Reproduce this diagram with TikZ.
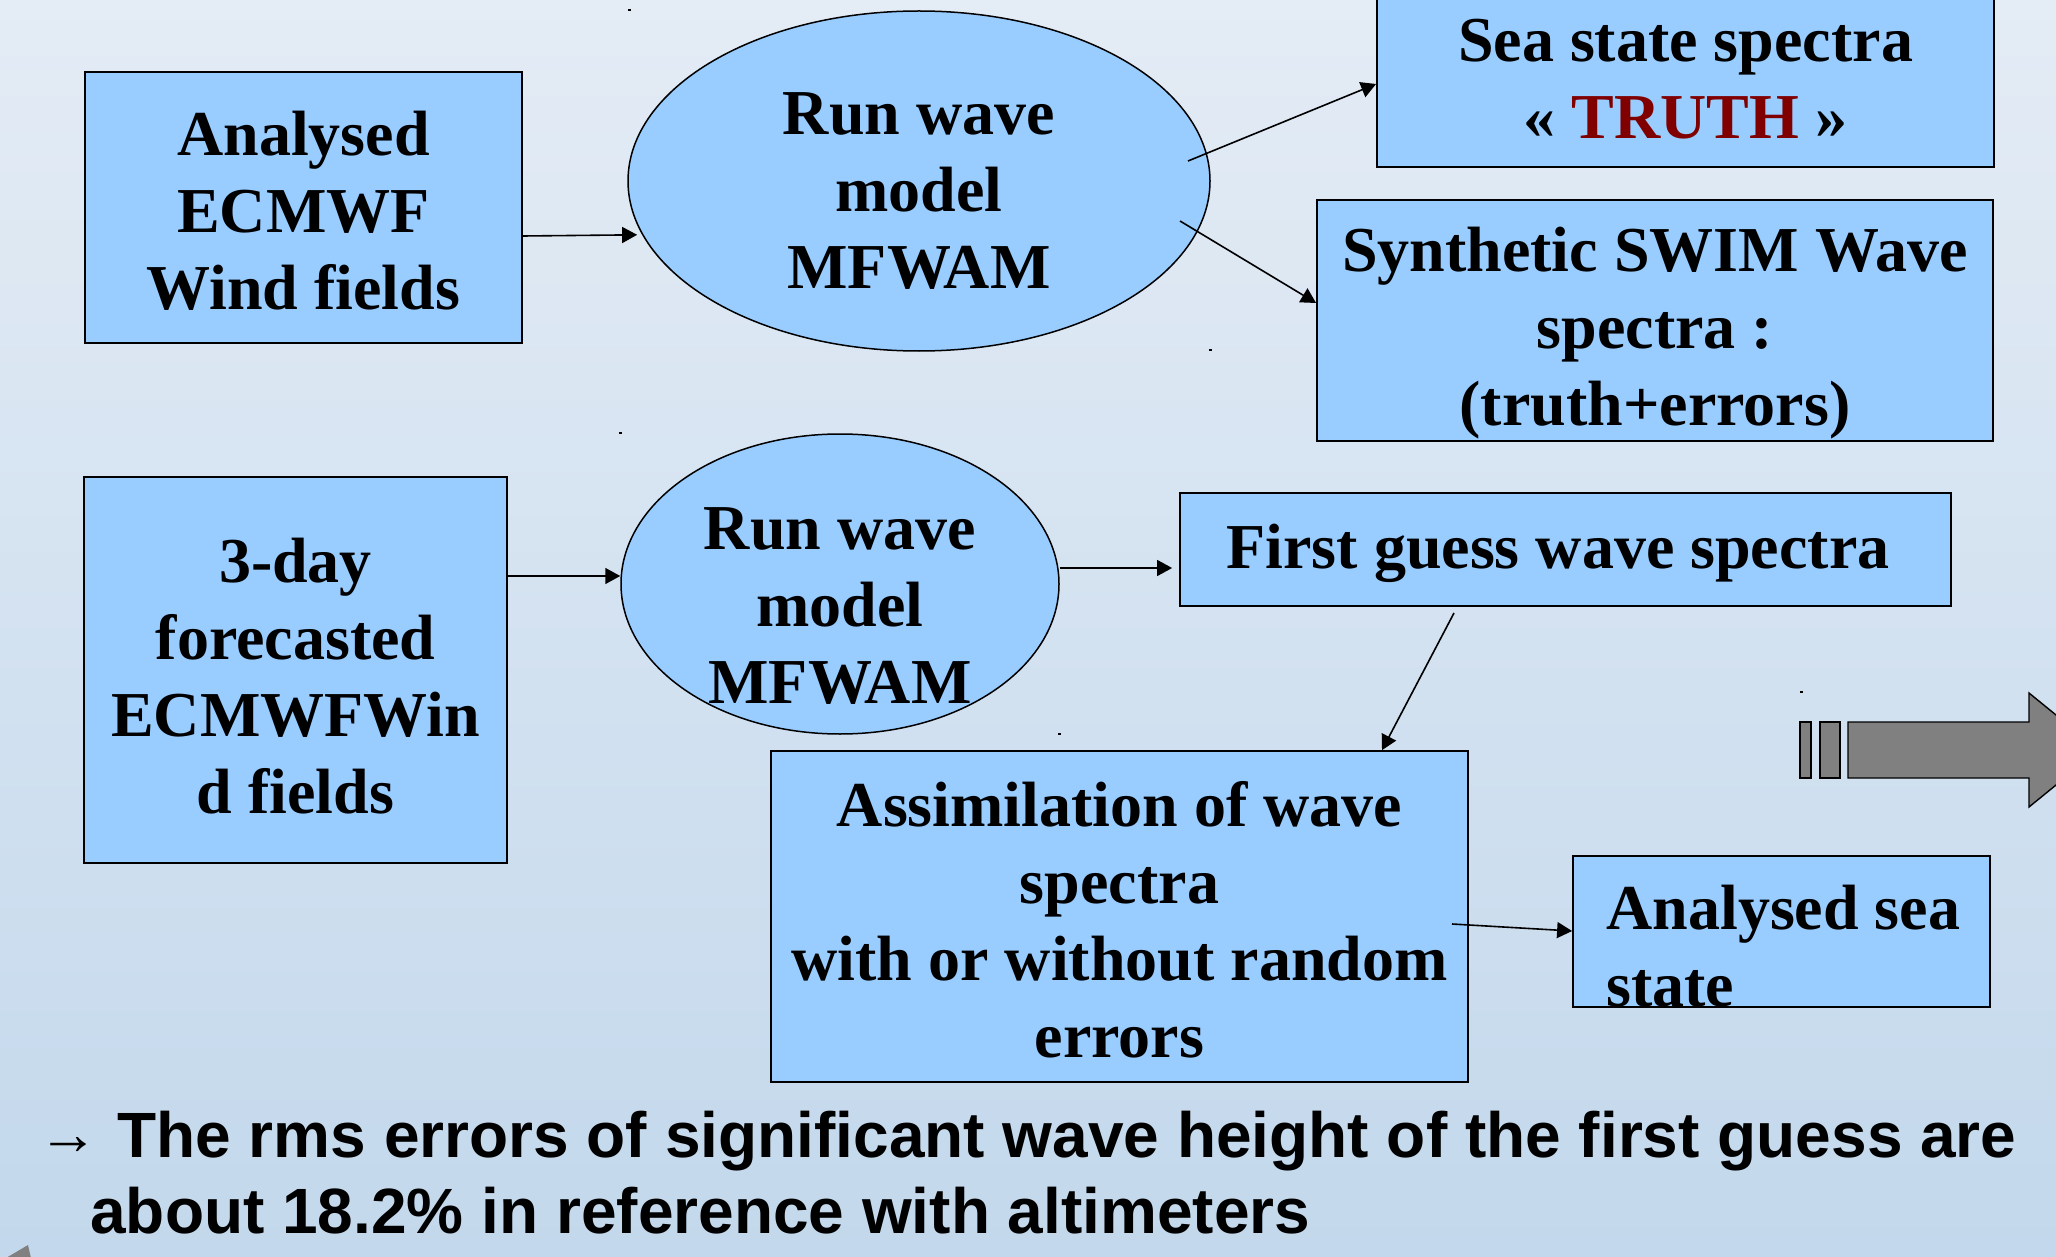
\documentclass[tikz,border=0pt]{standalone}
\usepackage{fontspec}
\setmainfont{Liberation Serif}
\newfontfamily\arialfont{Liberation Sans}
\usetikzlibrary{shapes.geometric,arrows.meta,calc}
\definecolor{boxblue}{HTML}{99CCFF}
\definecolor{truthred}{HTML}{800000}
\definecolor{bgtop}{HTML}{E4ECF5}
\definecolor{bgbot}{HTML}{C3D8EC}
\definecolor{arrowgray}{HTML}{808080}
\begin{document}
\begin{tikzpicture}[x=0.5pt,y=-0.5pt,
  boxnode/.style={draw=black,line width=0.9pt,fill=boxblue,rectangle,inner sep=0pt},
  ellnode/.style={draw=black,line width=0.75pt,fill=boxblue,ellipse,inner sep=0pt},
  txt/.style={inner sep=0pt,align=center,font=\fontsize{32}{38.5}\selectfont\bfseries},
  conn/.style={line width=0.8pt,-{Triangle[length=7.5pt,width=8pt]}},
  bigarrow/.style={draw=black,line width=0.7pt,fill=arrowgray},
  speck/.style={fill=black}
]
\useasboundingbox (0,0) rectangle (2056,1257);
\shade[top color=bgtop,bottom color=bgbot] (0,0) rectangle (2056,1257);
\begin{scope}
\clip (0,0) rectangle (2056,1257);

% boxes and ellipses
\node[boxnode,minimum width=218.5pt,minimum height=135.5pt] (a) at (303.5,207.5) {};
\node[ellnode,minimum width=291pt,minimum height=170pt] (e1) at (919,181) {};
\node[boxnode,minimum width=308.5pt,minimum height=86pt] (truth) at (1685.5,81) {};
\node[boxnode,minimum width=338pt,minimum height=120.5pt] (syn) at (1655,320.5) {};
\node[boxnode,minimum width=211.5pt,minimum height=193pt] (d3) at (295.5,670) {};
\node[ellnode,minimum width=219pt,minimum height=150pt] (e2) at (840,584) {};
\node[boxnode,minimum width=385.5pt,minimum height=56.5pt] (fg) at (1565.5,549.5) {};
\node[boxnode,minimum width=348.5pt,minimum height=165.5pt] (asm) at (1119.5,916.5) {};
\node[boxnode,minimum width=208.5pt,minimum height=75.5pt] (an) at (1781.5,931.5) {};

% texts
\node[txt] (ta) at (303.5,217) {\strut Analysed\\\strut ECMWF\\\strut Wind fields};
\node[txt] (te1) at (919,196) {\strut Run wave\\\strut model\\\strut MFWAM};
\node[txt] (ttruth) at (1685.5,84.6) {\strut Sea state spectra\\\strut « \textcolor{truthred}{TRUTH} »};
\node[txt] (tsyn) at (1655,332.6) {\strut Synthetic SWIM Wave\\\strut spectra :\\\strut (truth+errors)};
\node[txt] (td3) at (295.5,683) {\strut 3-day\\\strut forecasted\\\strut ECMWFWin\\\strut d fields};
\node[txt] (te2) at (840,611) {\strut Run wave\\\strut model\\\strut MFWAM};
\node[txt] (tfg) at (1558,553) {\strut First guess wave spectra};
\node[txt] (tasm) at (1119.5,926.6) {\strut Assimilation of wave\\\strut spectra\hspace*{10pt}\\\strut with or without random\\\strut errors};
\node[txt,align=left,anchor=west] (tan) at (1606,952.6) {\strut Analysed sea\\\strut state};

% connector start points
\coordinate (e1out1) at (1188,161);
\coordinate (e1out2) at (1180,221);
\coordinate (fgout) at (1454,613);
\coordinate (asmout) at (1452,924);

% connectors
\draw[conn] (a.east |- 0,236) -- ($(e1.191)+(-5,0)$);
\draw[conn] (e1out1) -- (truth.west |- 0,84);
\draw[conn] (e1out2) -- (syn.west |- 0,303);
\draw[conn] (d3.east |- 0,576) -- (e2.west |- 0,576);
\draw[conn] (e2.east |- 0,568) -- ($(fg.west |- 0,568)+(-7,0)$);
\draw[conn] (fgout) -- (asm.north -| 1382,0);
\draw[conn] (asmout) -- (an.west |- 0,931);

% striped block arrow
\draw[bigarrow] (1800,722) rectangle (1811,778);
\draw[bigarrow] (1820,722) rectangle (1840,778);
\draw[bigarrow] (1848,722) -- (2029,722) -- (2029,693) -- (2099,750) -- (2029,807) -- (2029,778) -- (1848,778) -- cycle;

% small grey triangle bottom left
\fill[arrowgray] (6,1258) -- (28,1245) -- (31,1258) -- cycle;

% specks
\fill[speck] (628,9) rectangle (631,11);
\fill[speck] (1209,349) rectangle (1212,351);
\fill[speck] (619,432) rectangle (622,434);
\fill[speck] (1058,733) rectangle (1061,735);
\fill[speck] (1800,691) rectangle (1803,693);

% bottom text
\node[inner sep=0pt,font=\fontsize{30}{30}\selectfont] (arw) at (69,1146) {→};
\node[inner sep=0pt,align=left,anchor=west,font=\arialfont\bfseries\fontsize{32}{38}\selectfont] (bt) at (90,1180)
  {\strut\hspace*{13.5pt}The rms errors of significant wave height of the first guess are\\\strut about 18.2\% in reference with altimeters};
\end{scope}
\end{tikzpicture}
\end{document}
